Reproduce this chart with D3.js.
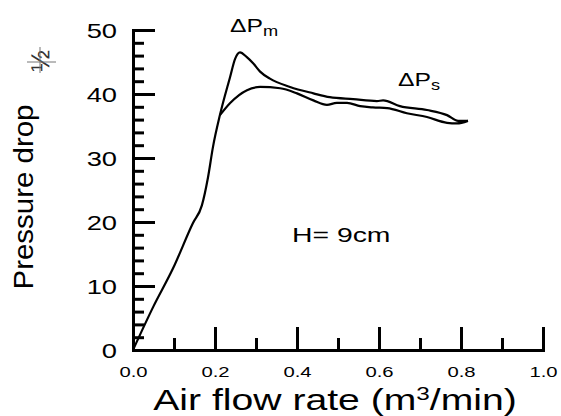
<!DOCTYPE html>
<html>
<head>
<meta charset="utf-8">
<script src="https://cdn.jsdelivr.net/npm/d3@7"></script>
<style>
  body { margin: 0; background: #fff; }
  text { font-family: "Liberation Sans", Arial, sans-serif; fill: #000; }
  .tick line, .domain { stroke: #000; stroke-width: 3px; }
</style>
</head>
<body>
<svg id="chart"></svg>
<script>
// rising part shared by both curves (air flow m3/min, pressure drop)
const riseFlow = [0, 0.049, 0.098, 0.146, 0.168, 0.183, 0.195, 0.212];
const risePressure = [0, 6.7, 12.8, 19.8, 22.6, 27.0, 31.7, 36.7];

// ΔPm branch after the junction
const peakFlow = [0.237, 0.249, 0.261, 0.277, 0.293, 0.31, 0.334, 0.383, 0.44, 0.48, 0.537, 0.595, 0.61, 0.651, 0.717, 0.766, 0.793, 0.817];
const peakPressure = [42.7, 45.5, 46.5, 45.8, 44.8, 43.5, 42.4, 41.1, 40.1, 39.5, 39.2, 38.9, 39.0, 38.1, 37.5, 36.7, 35.8, 35.8];

// ΔPs branch starting at the junction
const steadyFlow = [0.212, 0.237, 0.278, 0.31, 0.359, 0.4, 0.44, 0.473, 0.497, 0.522, 0.554, 0.585, 0.62, 0.668, 0.717, 0.766, 0.79, 0.817];
const steadyPressure = [36.7, 38.6, 40.6, 41.1, 40.9, 40.1, 39.0, 38.3, 38.6, 38.6, 38.1, 37.9, 37.8, 37.0, 36.4, 35.5, 35.4, 35.8];

const xTicks = [0, 0.2, 0.4, 0.6, 0.8, 1.0];
const xMinorTicks = [0.1, 0.3, 0.5, 0.7, 0.9];
const yTicks = [0, 10, 20, 30, 40, 50];
const yMinorTicks = [2, 4, 6, 8, 12, 14, 16, 18, 22, 24, 26, 28, 32, 34, 36, 38, 42, 44, 46, 48];

// set the dimensions and margins of the graph
const width = 561;
const height = 416;
const margin = {top: 30, right: 18, bottom: 66, left: 133};
const innerWidth = width - margin.left - margin.right;
const innerHeight = height - margin.top - margin.bottom;
const sx = 1.35; // text in the figure is stretched horizontally

const svg = d3.select('#chart')
  .attr('width', width)
  .attr('height', height);

const g = svg.append('g')
  .attr('transform', `translate(${margin.left},${margin.top})`);

// widen a text by a factor without a transform
function stretch(sel, f) {
  sel.each(function() {
    const w = this.getComputedTextLength();
    d3.select(this).attr('textLength', w * f).attr('lengthAdjust', 'spacingAndGlyphs');
  });
}

// create scales
const xScale = d3.scaleLinear().domain([0, 1]).range([0, innerWidth]);
const yScale = d3.scaleLinear().domain([0, 50]).range([innerHeight, 0]);

// minor ticks
g.append('g')
  .attr('transform', `translate(0,${innerHeight})`)
  .call(d3.axisBottom(xScale).tickValues(xMinorTicks).tickSizeInner(-12).tickSizeOuter(0).tickFormat(''));

g.append('g')
  .call(d3.axisLeft(yScale).tickValues(yMinorTicks).tickSizeInner(-11).tickSizeOuter(0).tickFormat(''));

// major ticks + labels
const xAxis = g.append('g')
  .attr('transform', `translate(0,${innerHeight})`)
  .call(d3.axisBottom(xScale).tickValues(xTicks).tickSizeInner(-23).tickSizeOuter(0)
    .tickPadding(16).tickFormat(d3.format('.1f')))
  .attr('font-family', null)
  .attr('font-size', 15);
xAxis.selectAll('.tick text').call(stretch, sx);

const yAxis = g.append('g')
  .call(d3.axisLeft(yScale).tickValues(yTicks).tickSizeInner(-22).tickSizeOuter(0)
    .tickPadding(16).tickFormat(d3.format('d')))
  .attr('font-family', null)
  .attr('font-size', 21);
yAxis.selectAll('.tick text')
  .attr('dy', '0.36em')
  .call(stretch, 1.3);

svg.selectAll('.domain').attr('stroke-linecap', 'square');

// curves
const line = d3.line()
  .x(d => xScale(d[0]))
  .y(d => yScale(d[1]))
  .curve(d3.curveMonotoneX);

const mPressure = risePressure.concat(peakPressure);
const mSeries = riseFlow.concat(peakFlow).map((f, i) => [f, mPressure[i]]);
const sSeries = steadyFlow.map((f, i) => [f, steadyPressure[i]]);

g.selectAll('.curve')
  .data([mSeries, sSeries])
  .enter()
  .append('path')
  .attr('class', 'curve')
  .attr('d', line)
  .attr('fill', 'none')
  .attr('stroke', '#000')
  .attr('stroke-width', 2.2);

// annotations
function label(x, y, main, sub, size) {
  const t = svg.append('g')
    .attr('transform', `translate(${x},${y}) scale(1.3,1)`)
    .append('text')
    .attr('font-size', size);
  t.append('tspan').text(main);
  if (sub) t.append('tspan').attr('font-size', 14).attr('dy', 4).text(sub);
}
label(230, 32, 'ΔP', 'm', 19);
label(398, 86, 'ΔP', 's', 19);

svg.append('text')
  .attr('x', 292)
  .attr('y', 242)
  .attr('font-size', 21)
  .text('H= 9cm')
  .call(stretch, sx);

// axis titles
const xTitle = svg.append('text')
  .attr('transform', `translate(335,410) scale(${sx},1)`)
  .attr('text-anchor', 'middle')
  .attr('font-size', 29);
xTitle.append('tspan').text('Air flow rate (m');
xTitle.append('tspan').attr('font-size', 18).attr('dy', -10).text('3');
xTitle.append('tspan').attr('dy', 10).text('/min)');

svg.append('text')
  .attr('transform', 'translate(33,197) rotate(-90) scale(1,1.35)')
  .attr('text-anchor', 'middle')
  .attr('font-size', 21)
  .attr('textLength', 185)
  .attr('lengthAdjust', 'spacingAndGlyphs')
  .text('Pressure drop');

// garbled unit mark next to the title
svg.append('text')
  .attr('transform', 'translate(49,61) rotate(-90)')
  .attr('text-anchor', 'middle')
  .attr('font-size', 26)
  .style('fill', '#333')
  .text('½');
svg.append('line').attr('x1', 40).attr('x2', 40).attr('y1', 47).attr('y2', 73)
  .attr('stroke', '#777').attr('stroke-width', 1);
svg.append('line').attr('x1', 27).attr('x2', 56).attr('y1', 62).attr('y2', 62)
  .attr('stroke', '#777').attr('stroke-width', 1);
</script>
</body>
</html>
